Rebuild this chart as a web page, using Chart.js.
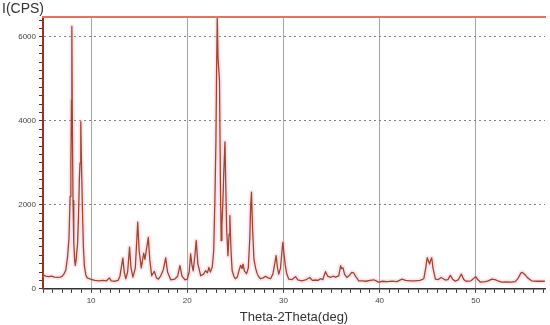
<!DOCTYPE html>
<html>
<head>
<meta charset="utf-8">
<script src="https://cdn.jsdelivr.net/npm/chart.js@4/dist/chart.umd.min.js"></script>
<style>
html,body{margin:0;padding:0;background:#fff;}
#wrap{width:550px;height:325px;}
</style>
</head>
<body>
<div id="wrap"><canvas id="c" width="550" height="325"></canvas></div>
<script>
// 2-theta (deg) positions
const twoTheta = [5.0,5.3,5.6,5.9,6.2,6.5,6.8,7.0,7.2,7.37,7.55,7.7,7.82,7.9,7.96,8.0,8.05,8.12,8.2,8.3,8.36,8.45,8.6,8.7,8.78,8.85,8.93,9.0,9.1,9.2,9.3,9.45,9.6,9.8,10.1,10.4,10.8,11.2,11.6,11.9,12.1,12.5,12.8,13.0,13.3,13.45,13.6,13.8,14.0,14.15,14.35,14.6,14.85,15.0,15.22,15.47,15.6,15.95,16.1,16.3,16.57,16.8,17.0,17.24,17.5,17.76,17.95,18.28,18.7,19.0,19.24,19.45,19.76,20.0,20.2,20.35,20.5,20.62,20.8,20.93,21.1,21.4,21.7,21.9,22.1,22.25,22.4,22.6,22.75,22.88,22.98,23.05,23.12,23.2,23.35,23.45,23.53,23.6,23.7,23.8,23.92,24.0,24.1,24.23,24.35,24.43,24.55,24.67,24.85,25.0,25.2,25.4,25.55,25.7,25.8,25.95,26.17,26.35,26.5,26.6,26.68,26.78,26.93,27.1,27.27,27.45,27.62,27.9,28.14,28.4,28.66,28.9,29.1,29.24,29.38,29.52,29.7,29.85,29.94,30.05,30.2,30.35,30.56,30.9,31.26,31.5,31.9,32.3,32.74,33.0,33.33,33.6,33.85,34.1,34.37,34.6,34.89,35.15,35.4,35.75,35.95,36.05,36.2,36.35,36.6,36.9,37.1,37.3,37.5,37.83,38.2,38.6,39.0,39.4,39.9,40.3,40.8,41.3,41.8,42.33,42.7,43.2,43.7,44.2,44.6,44.8,44.95,45.1,45.2,45.3,45.42,45.55,45.8,46.1,46.4,46.83,47.1,47.35,47.6,47.87,48.2,48.5,48.75,48.98,49.5,50.0,50.2,50.47,51.0,51.3,51.67,52.0,52.4,52.7,53.2,53.7,54.1,54.4,54.7,54.85,55.1,55.4,55.8,56.3,56.9,57.2];
// Intensity (CPS)
const intensity = [330,300,290,300,280,270,280,300,360,450,750,1200,2200,3000,4500,6250,4000,2100,1100,650,560,700,1100,1800,2600,3000,3980,3000,1900,1000,560,330,260,240,220,200,190,200,190,260,190,180,200,300,730,400,240,400,990,500,280,500,1585,900,500,850,700,1225,700,310,415,260,230,310,450,735,400,215,230,300,550,300,215,230,400,830,550,430,800,1150,600,310,350,430,380,510,400,520,900,2180,3500,5200,6450,5500,4970,2500,1150,1500,2030,2800,3500,2500,1400,790,1300,1745,900,430,300,240,280,450,560,480,590,420,360,500,1200,2000,2300,1500,715,500,360,280,240,260,300,260,240,350,600,790,500,350,500,900,1105,850,550,350,230,220,290,210,190,210,270,200,210,200,240,220,410,300,270,300,280,310,550,480,500,350,270,330,390,380,300,190,190,180,200,215,160,180,170,185,170,230,200,190,190,200,240,500,740,650,590,680,740,500,230,220,270,210,220,320,230,180,220,350,220,180,190,290,220,160,170,190,230,220,180,160,165,160,170,250,380,390,340,260,190,180,180,185];
const xLabelTicks = [10,20,30,40,50];
const yLabelTicks = [0,2000,4000,6000];
const xRange = [5, 57.2];
const yRange = [0, 6480];

const points = twoTheta.map((x,i)=>({x:x, y:intensity[i]}));

const xTickVals = []; for (let v=5; v<=57; v++) xTickVals.push(v);
const yTickVals = []; for (let v=0; v<=6400; v+=200) yTickVals.push(v);

new Chart(document.getElementById('c'), {
  type:'line',
  data:{datasets:[
    {data:points, borderColor:'rgb(155,70,50)', borderWidth:1.3, pointRadius:0, tension:0, borderJoinStyle:'round', order:1},
    {data:points, borderColor:'rgba(255,160,180,0.26)', borderWidth:5, pointRadius:0, tension:0, borderJoinStyle:'round', borderCapStyle:'round', order:2}
  ]},
  options:{
    responsive:false, animation:false, maintainAspectRatio:false,
    layout:{padding:{left:2,right:5,top:0,bottom:0}},
    plugins:{
      legend:{display:false}, tooltip:{enabled:false},
      title:{display:true, text:'I(CPS)', align:'start', color:'#333',
        font:{family:'Liberation Sans', size:14, weight:'normal'}, padding:{top:1,bottom:-1}}
    },
    scales:{
      x:{type:'linear', min:xRange[0], max:xRange[1],
        afterBuildTicks:(s)=>{s.ticks = xTickVals.map(v=>({value:v}));},
        ticks:{autoSkip:false, maxRotation:0, color:'#444', font:{family:'Liberation Sans', size:8}, padding:3,
          callback:(v)=> xLabelTicks.includes(v) ? String(v) : ''},
        grid:{color:(c)=> (c.tick && xLabelTicks.includes(c.tick.value)) ? 'rgba(150,150,150,0.85)' : 'rgba(0,0,0,0)',
          lineWidth:1, tickLength:4, tickColor:'#333', tickWidth:1},
        border:{color:'#333', width:1.5},
        title:{display:true, text:'Theta-2Theta(deg)', color:'#333', font:{family:'Liberation Sans', size:13}, padding:{top:1,bottom:0}}
      },
      y:{type:'linear', min:yRange[0], max:yRange[1],
        afterBuildTicks:(s)=>{s.ticks = yTickVals.map(v=>({value:v}));},
        afterFit:(s)=>{s.width = 41;},
        ticks:{autoSkip:false, color:'#444', font:{family:'Liberation Sans', size:8}, padding:3,
          callback:(v)=> yLabelTicks.includes(v) ? String(v) : ''},
        grid:{color:(c)=> (c.tick && c.tick.value>0 && yLabelTicks.includes(c.tick.value)) ? 'rgba(120,120,120,0.9)' : 'rgba(0,0,0,0)',
          lineWidth:1, tickLength:4, tickColor:'#6a2a1a', tickWidth:1, tickBorderDash:[]},
        border:{color:'rgb(150,50,35)', width:2, dash:[2,3]}
      },
      x2:{type:'linear', position:'top', min:xRange[0], max:xRange[1],
        ticks:{display:false}, grid:{display:false, drawTicks:false},
        border:{color:'rgb(235,110,100)', width:2}}
    }
  }
});
</script>
</body>
</html>
